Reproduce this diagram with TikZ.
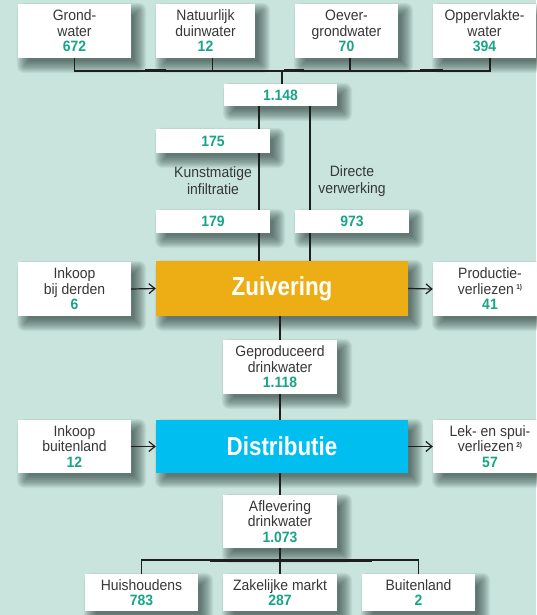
\documentclass[tikz,border=0pt]{standalone}
\usepackage{fontspec}
\setmainfont[FakeStretch=0.93]{Liberation Sans}
\newfontfamily\condfont[FakeStretch=0.86]{Liberation Sans}
\usetikzlibrary{arrows.meta}
\definecolor{bgc}{RGB}{200,228,220}
\definecolor{txt}{RGB}{55,55,55}
\definecolor{grn}{RGB}{24,164,134}
\definecolor{orng}{RGB}{236,174,20}
\definecolor{cyn}{RGB}{0,190,240}
\definecolor{lnc}{RGB}{30,30,30}
\definecolor{shc}{RGB}{20,40,35}
\pgfdeclarelayer{bg}
\pgfdeclarelayer{shad}
\pgfdeclarelayer{lines}
\pgfsetlayers{bg,shad,lines,main}
\newcommand{\gnum}[1]{{\bfseries\color{grn}#1}}
\newcommand{\fnote}[1]{\raisebox{4.5pt}{\fontsize{7}{7}\selectfont\bfseries #1}}
\newcommand{\boxshadow}[1]{%
  \begin{pgfonlayer}{shad}
  \foreach \r in {-4,...,8}{
    \fill[shc,opacity=0.06,rounded corners={max(\r,0)*1pt}]
      ([xshift={(7-\r)*1pt},yshift={(-7-\r)*1pt}]#1.south west) rectangle
      ([xshift={(7+\r)*1pt},yshift={(-7+\r)*1pt}]#1.north east);
  }
  \end{pgfonlayer}}
\begin{document}
\begin{tikzpicture}[x=1pt,y=-1pt,
  box/.style={fill=white,inner sep=0pt,align=center,text=txt,
    font=\fontsize{15}{15.5}\selectfont},
  bigbox/.style={inner sep=0pt,align=center,text=white,
    font=\condfont\bfseries\fontsize{26}{28}\selectfont},
  lab/.style={inner sep=0pt,align=center,text=txt,
    font=\fontsize{15}{17}\selectfont},
  conn/.style={draw=lnc,line width=1.2pt},
  trunk/.style={draw=lnc,line width=1.8pt},
  thickseg/.style={draw=lnc,line width=3pt},
  arr/.style={draw=lnc,line width=1.2pt,-{Straight Barb[length=6pt,width=10pt,line width=1.2pt]}}
]
\useasboundingbox (0,0) rectangle (536,615);
\begin{pgfonlayer}{bg}
  \fill[bgc] (0,0) rectangle (536,615);
\end{pgfonlayer}

% top sources
\node[box,minimum width=113pt,minimum height=54pt] (gw) at (74.5,31) {Grond-\\water\\\gnum{672}};
\node[box,minimum width=99pt,minimum height=54pt] (nd) at (205.5,31) {Natuurlijk\\duinwater\\\gnum{12}};
\node[box,minimum width=103pt,minimum height=54pt] (og) at (346.5,31) {Oever-\\grondwater\\\gnum{70}};
\node[box,minimum width=103pt,minimum height=54pt] (ow) at (484.5,31) {Oppervlakte-\\water\\\gnum{394}};

\node[box,minimum width=113pt,minimum height=22pt] (tot) at (280.5,95) {\gnum{1.148}};

\node[box,minimum width=114pt,minimum height=24pt] (b175) at (213,141) {\gnum{175}};
\node[lab] (ki) at (213,181) {Kunstmatige\\infiltratie};
\node[lab] (dv) at (352,181) {Directe\\verwerking};
\node[box,minimum width=114pt,minimum height=23pt] (b179) at (213,221.5) {\gnum{179}};
\node[box,minimum width=114pt,minimum height=23pt] (b973) at (352,221.5) {\gnum{973}};

% Zuivering row
\node[box,minimum width=113pt,minimum height=54pt] (ink1) at (74.5,289) {Inkoop\\bij derden\\\gnum{6}};
\node[bigbox,fill=orng,minimum width=252pt,minimum height=55pt] (zuiv) at (282,288.5) {Zuivering};
\node[box,minimum width=114pt,minimum height=54pt] (prod) at (490,289) {Productie-\\verliezen\,\fnote{1)}\\\gnum{41}};

\node[box,minimum width=114pt,minimum height=54pt] (gepr) at (280,367) {Geproduceerd\\drinkwater\\\gnum{1.118}};

% Distributie row
\node[box,minimum width=113pt,minimum height=53pt] (ink2) at (74.5,446.5) {Inkoop\\buitenland\\\gnum{12}};
\node[bigbox,fill=cyn,minimum width=252pt,minimum height=53pt] (dist) at (282,446.5) {Distributie};
\node[box,minimum width=114pt,minimum height=53pt] (lek) at (490,446.5) {Lek- en spui-\\verliezen\,\fnote{2)}\\\gnum{57}};

\node[box,minimum width=114pt,minimum height=53pt] (afl) at (280,521.5) {Aflevering\\drinkwater\\\gnum{1.073}};

% bottom
\node[box,minimum width=113pt,minimum height=37pt] (huis) at (141.5,592.5) {Huishoudens\\\gnum{783}};
\node[box,minimum width=114pt,minimum height=37pt] (zak) at (280,592.5) {Zakelijke markt\\\gnum{287}};
\node[box,minimum width=113pt,minimum height=37pt] (buit) at (418.5,592.5) {Buitenland\\\gnum{2}};

\foreach \n in {gw,nd,og,ow,tot,b175,b179,b973,ink1,zuiv,prod,gepr,ink2,dist,lek,afl,huis,zak,buit}{\boxshadow{\n}}

\coordinate (hub) at (282,71);
\coordinate (bhub) at (280,560);

\begin{pgfonlayer}{lines}
  % collecting line
  \draw[conn] (gw.south) |- (hub) -| ([xshift=5.5pt]ow.south);
  \draw[conn] ([xshift=7pt]nd.south) -- ([xshift=7pt]nd.south |- hub);
  \draw[conn] ([xshift=3.5pt]og.south) -- ([xshift=3.5pt]og.south |- hub);
  \draw[thickseg] ([xshift=-137pt]hub) -- ([xshift=-116pt]hub);
  \draw[thickseg] ([xshift=2pt]hub) -- ([xshift=22pt]hub);
  \draw[thickseg] ([xshift=138pt]hub) -- ([xshift=161pt]hub);
  \draw[conn] (hub) -- (hub |- tot.north);
  % two branches
  \draw[conn] ([xshift=-21.5pt]tot.south) -- ([xshift=-21.5pt]tot.south |- zuiv.north);
  \draw[conn] ([xshift=29.5pt]tot.south) -- ([xshift=29.5pt]tot.south |- zuiv.north);
  % trunk
  \draw[trunk] (gepr.north) -- (gepr.north |- zuiv.south);
  \draw[trunk] (gepr.south) -- (gepr.south |- dist.north);
  \draw[trunk] (afl.north) -- (afl.north |- dist.south);
  \draw[trunk] (afl.south) -- (zak.north);
  \draw[conn] (huis.north) |- (bhub) -| (buit.north);
  \draw[thickseg] ([xshift=-70pt]bhub) -- ([xshift=92pt]bhub);
\end{pgfonlayer}

% arrows
\draw[arr] (ink1.east) -- (zuiv.west);
\draw[arr] (zuiv.east) -- (prod.west);
\draw[arr] (ink2.east) -- (dist.west);
\draw[arr] (dist.east) -- (lek.west);
\end{tikzpicture}
\end{document}
